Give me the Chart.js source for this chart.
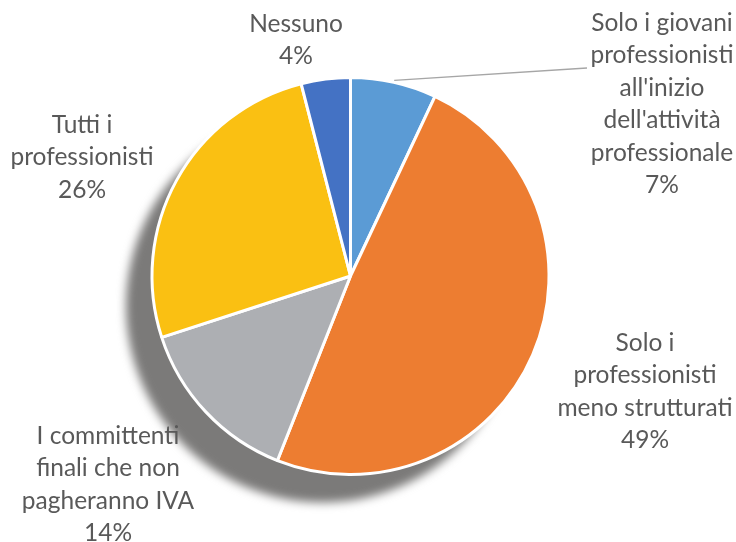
<!DOCTYPE html>
<html>
<head>
<meta charset="utf-8">
<script src="https://cdn.jsdelivr.net/npm/chart.js@4"></script>
<style>
  html, body { margin: 0; padding: 0; background: #fff; }
  #wrap { width: 736px; height: 542px; }
</style>
</head>
<body>
<div id="wrap"><canvas id="chart"></canvas></div>
<script>
// Dati
const categories = [
  ["Solo i giovani", "professionisti", "all'inizio", "dell'attività", "professionale"],
  ["Solo i", "professionisti", "meno strutturati"],
  ["I committenti", "finali che non", "pagheranno IVA"],
  ["Tutti i", "professionisti"],
  ["Nessuno"]
];
const values = [7, 49, 14, 26, 4];
const colors = ['#5B9BD5', '#ED7D31', '#ADAFB3', '#FAC012', '#4472C4'];

// posizione delle etichette (centro x, centro y della prima riga)
const labelPos = [[662, 23], [645, 343], [108, 436], [82, 125], [296, 24]];
const lineGap = 32.5;

// ombra sotto la torta
const shadowPlugin = {
  id: 'shadow',
  beforeDatasetsDraw(chart) {
    const arc = chart.getDatasetMeta(0).data[0];
    const ctx = chart.ctx;
    ctx.save();
    ctx.filter = 'blur(5px)';
    ctx.fillStyle = '#7b7a79';
    ctx.beginPath();
    ctx.arc(arc.x - 28, arc.y + 30, arc.outerRadius - 2, 0, Math.PI * 2);
    ctx.fill();
    ctx.restore();
  }
};

// etichette con nome e percentuale
const labelPlugin = {
  id: 'labels',
  afterDatasetsDraw(chart) {
    const ctx = chart.ctx;
    const meta = chart.getDatasetMeta(0);
    ctx.save();
    ctx.font = '24.5px Lato';
    ctx.fillStyle = '#595959';
    ctx.textAlign = 'center';
    ctx.textBaseline = 'middle';
    meta.data.forEach((arc, i) => {
      const lines = categories[i].concat([values[i] + '%']);
      const p = labelPos[i];
      lines.forEach((t, j) => ctx.fillText(t, p[0], p[1] + j * lineGap));
    });
    // linea guida per la prima fetta
    const a = meta.data[0];
    const mid = (a.startAngle + a.endAngle) / 2;
    ctx.strokeStyle = '#A6A6A6';
    ctx.lineWidth = 1.3;
    ctx.beginPath();
    ctx.moveTo(a.x + Math.cos(mid) * (a.outerRadius + 2), a.y + Math.sin(mid) * (a.outerRadius + 2));
    ctx.lineTo(587, 68);
    ctx.stroke();
    ctx.restore();
  }
};

new Chart(document.getElementById('chart'), {
  type: 'pie',
  data: {
    labels: categories,
    datasets: [{
      data: values,
      backgroundColor: colors,
      borderColor: '#fff',
      borderWidth: 3
    }]
  },
  options: {
    responsive: true,
    maintainAspectRatio: false,
    animation: false,
    layout: { padding: { top: 76, bottom: 66, left: 150, right: 185 } },
    plugins: {
      legend: { display: false },
      tooltip: { enabled: false }
    }
  },
  plugins: [shadowPlugin, labelPlugin]
});
</script>
</body>
</html>
